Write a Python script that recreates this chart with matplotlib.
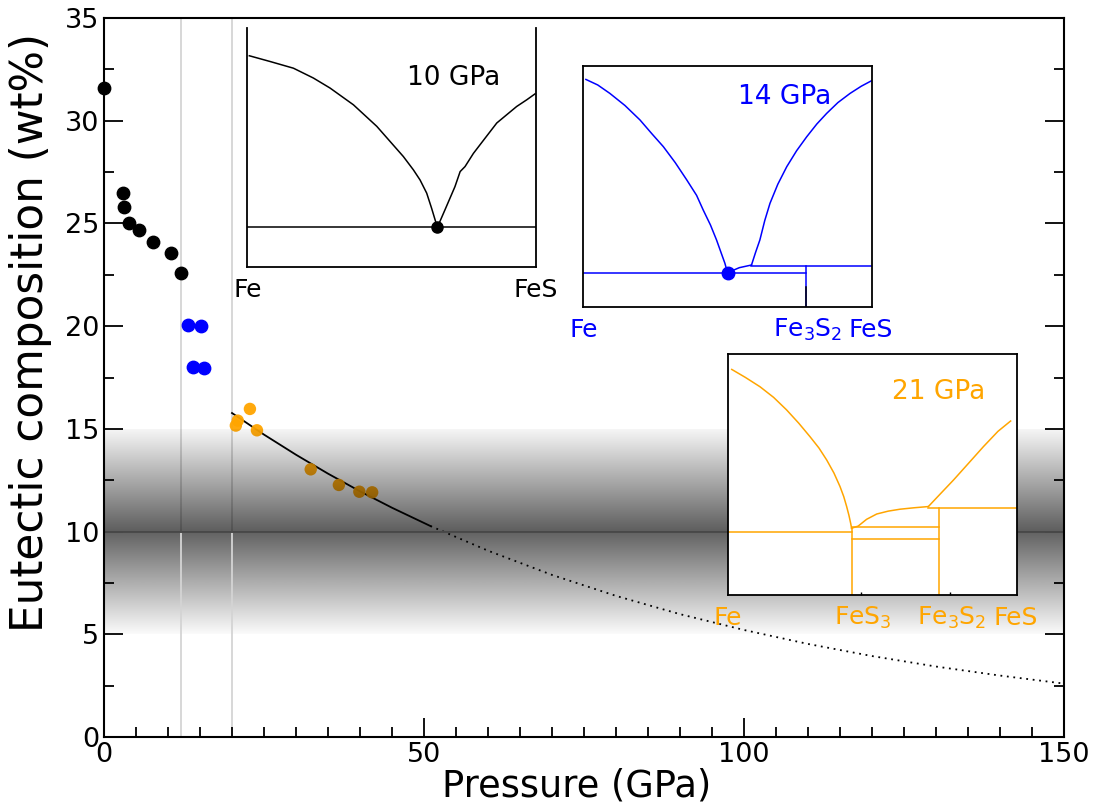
import numpy as np
import matplotlib
matplotlib.use("Agg")
import matplotlib.pyplot as plt

# ---------------- data ----------------
black_p = [0.0, 2.9, 3.2, 3.9, 5.4, 7.6, 10.4, 12.0]
black_c = [31.6, 26.5, 25.8, 25.0, 24.7, 24.1, 23.55, 22.6]
blue_p = [13.2, 15.2, 13.9, 15.7]
blue_c = [20.05, 20.0, 18.0, 17.95]
orange_p = [22.8, 20.9, 20.6, 23.9, 32.3, 36.7, 39.9, 41.9]
orange_c = [15.97, 15.4, 15.16, 14.93, 13.03, 12.27, 11.94, 11.91]

fit_solid_p = [20.0, 25.0, 30.0, 35.0, 40.0, 45.0, 51.0]
fit_solid_c = [15.77, 14.72, 13.74, 12.82, 11.96, 11.16, 10.27]
fit_dot_p = [51.0, 60.0, 70.0, 80.0, 90.0, 100.0, 110.0, 120.0, 130.0, 140.0, 150.0]
fit_dot_c = [10.27, 9.07, 7.89, 6.87, 5.98, 5.21, 4.53, 3.94, 3.43, 2.99, 2.60]

vline_p = [12.0, 20.0]
band_center = 10.0
band_top = 15.0
band_bottom = 5.0

# inset phase diagrams (normalised composition / temperature)
p10_left_x = [0.007, 0.079, 0.160, 0.229, 0.287, 0.368, 0.449, 0.495, 0.541,
              0.576, 0.599, 0.622, 0.639, 0.659]
p10_left_y = [0.884, 0.860, 0.832, 0.791, 0.749, 0.679, 0.589, 0.526, 0.463,
              0.407, 0.365, 0.310, 0.247, 0.167]
p10_right_x = [0.659, 0.685, 0.720, 0.738, 0.755, 0.784, 0.819, 0.865, 0.899,
               0.934, 0.969, 0.998]
p10_right_y = [0.167, 0.239, 0.337, 0.400, 0.421, 0.476, 0.531, 0.603, 0.637,
               0.672, 0.700, 0.725]
p10_eut = (0.659, 0.167)

p14_left_x = [0.009, 0.050, 0.092, 0.144, 0.196, 0.237, 0.277, 0.318, 0.358,
              0.392, 0.415, 0.440, 0.461, 0.478, 0.490, 0.499]
p14_left_y = [0.943, 0.920, 0.885, 0.835, 0.775, 0.718, 0.664, 0.598, 0.526,
              0.462, 0.401, 0.339, 0.277, 0.220, 0.180, 0.141]
p14_mid_x = [0.499, 0.540, 0.582]
p14_mid_y = [0.141, 0.162, 0.173]
p14_right_x = [0.582, 0.596, 0.611, 0.628, 0.646, 0.673, 0.704, 0.738, 0.773,
               0.808, 0.842, 0.881, 0.923, 0.962, 0.998]
p14_right_y = [0.173, 0.225, 0.277, 0.358, 0.429, 0.508, 0.581, 0.647, 0.705,
               0.758, 0.802, 0.847, 0.885, 0.915, 0.938]
p14_eut = (0.499, 0.138)
p14_eut_line = 0.141
p14_per_line = 0.170
p14_fe3s2 = 0.769

p21_left_x = [0.013, 0.060, 0.111, 0.158, 0.203, 0.245, 0.284, 0.315, 0.342,
              0.367, 0.388, 0.401, 0.411, 0.419, 0.425, 0.428]
p21_left_y = [0.936, 0.903, 0.864, 0.820, 0.768, 0.713, 0.657, 0.610, 0.560,
              0.506, 0.450, 0.408, 0.367, 0.330, 0.297, 0.277]
p21_mid_x = [0.428, 0.451, 0.480, 0.515, 0.555, 0.596, 0.645, 0.694]
p21_mid_y = [0.277, 0.286, 0.314, 0.336, 0.348, 0.356, 0.362, 0.367]
p21_right_x = [0.694, 0.735, 0.781, 0.832, 0.885, 0.935, 0.979]
p21_right_y = [0.367, 0.419, 0.477, 0.545, 0.616, 0.679, 0.722]
p21_eut_line = 0.263
p21_fes3 = 0.428
p21_fe3s2 = 0.732
p21_lines_mid = [0.284, 0.234]
p21_per_line = 0.362
p21_tick_pos = [0.462, 0.769]

ORANGE = "#FFA500"
BLUE = "#0000FF"

# ---------------- figure ----------------
fig = plt.figure(figsize=(10.99, 8.11), dpi=100)
ax = fig.add_axes([104/1099, 1-737/811, 960/1099, 719/811])
ax.set_xlim(0, 150)
ax.set_ylim(0, 35)

# lower gradient band (under the lines)
n = 400
t = np.linspace(0, 1, n)[:, None]
lower = np.zeros((n, 1, 4))
g_low = 250 - (250 - 96) * t      # t=0 at 5, t=1 at 10
lower[..., 3] = 1 - g_low / 255.0
ax.imshow(lower, extent=[0, 150, band_bottom, band_center], origin="lower",
          aspect="auto", zorder=0.5, interpolation="bilinear")

for v in vline_p:
    ax.axvline(v, color="#d4d4d4", lw=1.3, zorder=1)

ax.plot(fit_solid_p, fit_solid_c, color="black", lw=1.3, zorder=1.2)
ax.plot(fit_dot_p, fit_dot_c, color="black", lw=1.3, ls=(0, (1, 2.6)), zorder=1.2)

ax.scatter(black_p, black_c, s=80, color="black", zorder=1.5, clip_on=False)
ax.scatter(blue_p, blue_c, s=80, color=BLUE, zorder=1.5)
ax.scatter(orange_p, orange_c, s=80, color=ORANGE, alpha=0.95, zorder=1.5,
           edgecolors="none")

# upper gradient band (over the points)
upper = np.zeros((n, 1, 4))
g_up = 92 + (245 - 92) * t        # t=0 at 10, t=1 at 15
upper[..., 3] = 1 - g_up / 255.0
ax.imshow(upper, extent=[0, 150, band_center, band_top], origin="lower",
          aspect="auto", zorder=2, interpolation="bilinear")
ax.axhline(band_center, color="#4a4a4a", lw=1.4, zorder=2.1)

ax.set_xticks([0, 50, 100, 150])
ax.set_xticks(np.arange(0, 151, 5), minor=True)
ax.set_yticks(np.arange(0, 36, 5))
ax.set_yticks(np.arange(0, 35.1, 2.5), minor=True)
ax.tick_params(which="both", direction="in", right=True, top=False,
               labelsize=19.5, width=1.3)
ax.tick_params(which="major", length=14)
ax.tick_params(which="minor", length=7)
for s in ax.spines.values():
    s.set_linewidth(1.5)
ax.set_xlabel("Pressure (GPa)", fontsize=26.5)
ax.xaxis.set_label_coords(0.492, -0.042)
ax.set_ylabel("Eutectic composition (wt%)", fontsize=31.5)
ax.yaxis.set_label_coords(-0.054, 0.563)


def inset(rect, frame_top=True):
    a = fig.add_axes(rect)
    a.set_xlim(0, 1)
    a.set_ylim(0, 1)
    a.set_xticks([])
    a.set_yticks([])
    for s in a.spines.values():
        s.set_linewidth(1.3)
        s.set_color("black")
    if not frame_top:
        a.spines["top"].set_visible(False)
    a.set_zorder(5)
    return a


LW = 1.1
# 10 GPa inset
a1 = inset([247.3/1099, 1-267.3/811, 288.4/1099, 239.3/811], frame_top=False)
a1.patch.set_alpha(0)
a1.plot(p10_left_x, p10_left_y, color="black", lw=LW)
a1.plot(p10_right_x, p10_right_y, color="black", lw=LW)
a1.axhline(p10_eut[1], color="black", lw=LW)
a1.plot(*p10_eut, "o", color="black", ms=8, clip_on=False)
a1.text(0.714, 0.791, "10 GPa", fontsize=19, ha="center", va="center", color="black")
for xx, lab in [(0, "Fe"), (1, "FeS")]:
    a1.text(xx, -0.125, lab, fontsize=18, ha="center", va="baseline",
            color="black", transform=a1.transAxes)

# 14 GPa inset
a2 = inset([583.3/1099, 1-306.7/811, 289/1099, 241/811])
a2.plot(p14_left_x, p14_left_y, color=BLUE, lw=LW)
a2.plot(p14_mid_x, p14_mid_y, color=BLUE, lw=LW)
a2.plot(p14_right_x, p14_right_y, color=BLUE, lw=LW)
a2.plot([0, p14_fe3s2], [p14_eut_line, p14_eut_line], color=BLUE, lw=LW)
a2.plot([p14_mid_x[-1], 1], [p14_per_line, p14_per_line], color=BLUE, lw=LW)
a2.plot([p14_fe3s2, p14_fe3s2], [0, p14_per_line], color=BLUE, lw=LW)
a2.plot([p14_fe3s2, p14_fe3s2], [0, 0.08], color="black", lw=LW)
a2.plot(*p14_eut, "o", color=BLUE, ms=9)
a2.text(0.698, 0.871, "14 GPa", fontsize=19, ha="center", va="center", color=BLUE)
for xx, lab in [(0, "Fe"), (0.777, "Fe$_3$S$_2$"), (0.996, "FeS")]:
    a2.text(xx, -0.126, lab, fontsize=18, ha="center", va="baseline",
            color=BLUE, transform=a2.transAxes)

# 21 GPa inset
a3 = inset([728/1099, 1-595/811, 288.7/1099, 241/811])
a3.plot(p21_left_x, p21_left_y, color=ORANGE, lw=LW)
a3.plot(p21_mid_x, p21_mid_y, color=ORANGE, lw=LW)
a3.plot(p21_right_x, p21_right_y, color=ORANGE, lw=LW)
a3.plot([0, p21_fes3], [p21_eut_line, p21_eut_line], color=ORANGE, lw=LW)
a3.plot([p21_fes3, p21_fes3], [0, p21_left_y[-1]], color=ORANGE, lw=LW)
a3.plot([p21_fe3s2, p21_fe3s2], [0, p21_per_line], color=ORANGE, lw=LW)
for yy in p21_lines_mid:
    a3.plot([p21_fes3, p21_fe3s2], [yy, yy], color=ORANGE, lw=LW)
a3.plot([p21_mid_x[-1], 1], [p21_per_line, p21_per_line], color=ORANGE, lw=LW)
a3.set_xticks(p21_tick_pos)
a3.set_xticklabels([])
a3.tick_params(axis="x", direction="in", length=2.5, width=1)
a3.text(0.729, 0.844, "21 GPa", fontsize=19, ha="center", va="center", color=ORANGE)
for xx, lab in [(0, "Fe"), (0.466, "FeS$_3$"), (0.776, "Fe$_3$S$_2$"), (0.996, "FeS")]:
    a3.text(xx, -0.124, lab, fontsize=18, ha="center", va="baseline",
            color=ORANGE, transform=a3.transAxes)

fig.savefig("out.png", dpi=100)
